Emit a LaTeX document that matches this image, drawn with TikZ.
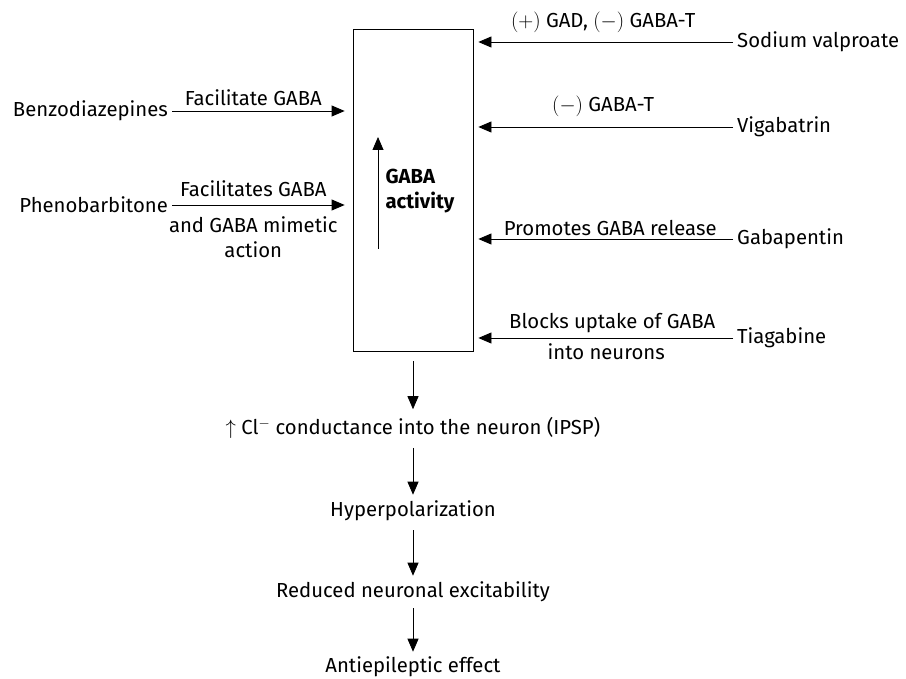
\documentclass[tikz,border=0pt]{standalone}
\usepackage{fontspec}
\setmainfont{Fira Sans}
\usetikzlibrary{arrows.meta, positioning}

\begin{document}
\begin{tikzpicture}[
        x=1pt, y=-1pt,
        font=\fontsize{20.3}{25}\selectfont,
        % Style for drug names
        drug/.style={inner sep=4pt},
        % Style for the mechanism labels on the arrows
        action/.style={align=center, inner sep=2pt},
        % Style for the chain of effects below the box
        effect/.style={inner sep=3pt},
        % Arrow with a filled triangular head
        flow/.style={thick, -{Triangle[length=13pt, width=11pt]}}
    ]
        \useasboundingbox (0,0) rectangle (906,679);

        % 1. Central box
        \node[draw, thick, minimum width=120pt, minimum height=322pt] (gaba) at (413,190) {};
        \node[font=\fontsize{20.3}{25}\selectfont\bfseries, align=left, anchor=west] (activity) at (382,191) {GABA\\activity};
        \coordinate (rise-low) at (378,249);
        \coordinate (rise-high) at (378,137);
        \draw[flow] (rise-low) -- (rise-high);

        % 2. Drugs on the left
        \node[drug, anchor=east] (benzo) at (172,111) {Benzodiazepines};
        \node[drug, anchor=east] (pheno) at (172,205) {Phenobarbitone};

        \draw[flow, shorten >=8pt] (benzo.east) -- (gaba.west |- benzo.east)
            node[action, pos=0.45, above=3pt] {Facilitate GABA};
        \draw[flow, shorten >=8pt] (pheno.east) -- (gaba.west |- pheno.east)
            node[action, pos=0.45, above=6pt] {Facilitates GABA}
            node[action, pos=0.45, below=9pt] {and GABA mimetic\\action};

        % 3. Drugs on the right
        \node[drug, anchor=west] (valp) at (733,42)  {Sodium valproate};
        \node[drug, anchor=west] (viga) at (733,127) {Vigabatrin};
        \node[drug, anchor=west] (gaba-pentin) at (733,239) {Gabapentin};
        \node[drug, anchor=west] (tiag) at (733,338) {Tiagabine};

        \draw[flow, shorten >=5pt] (valp.west) -- (gaba.east |- valp.west)
            node[action, midway, above=7pt] {$(+)$ GAD, $(-)$ GABA-T};
        \draw[flow, shorten >=5pt] (viga.west) -- (gaba.east |- viga.west)
            node[action, midway, above=8pt] {$(-)$ GABA-T};
        \draw[flow, shorten >=5pt] (gaba-pentin.west) -- (gaba.east |- gaba-pentin.west)
            node[action, midway, above=1pt, xshift=7pt] {Promotes GABA release};
        \draw[flow, shorten >=5pt] (tiag.west) -- (gaba.east |- tiag.west)
            node[action, midway, above=3pt, xshift=9pt] {Blocks uptake of GABA}
            node[action, midway, below=3pt, xshift=3pt] {into neurons};

        % 4. Chain of effects
        \node[effect] (ipsp) at (413,428) {$\uparrow$ Cl$^{-}$ conductance into the neuron (IPSP)};
        \node[effect] (hyper) at (413,511) {Hyperpolarization};
        \node[effect] (excit) at (413,592) {Reduced neuronal excitability};
        \node[effect, inner sep=1pt] (anti) at (413,667) {Antiepileptic effect};

        \draw[flow, shorten <=10pt, shorten >=5pt] (gaba.south) -- (ipsp);
        \draw[flow, shorten <=6pt, shorten >=3pt] (ipsp) -- (hyper);
        \draw[flow, shorten <=6pt, shorten >=3pt] (hyper) -- (excit);
        \draw[flow, shorten <=3pt, shorten >=4pt] (excit) -- (anti);

\end{tikzpicture}
\end{document}
